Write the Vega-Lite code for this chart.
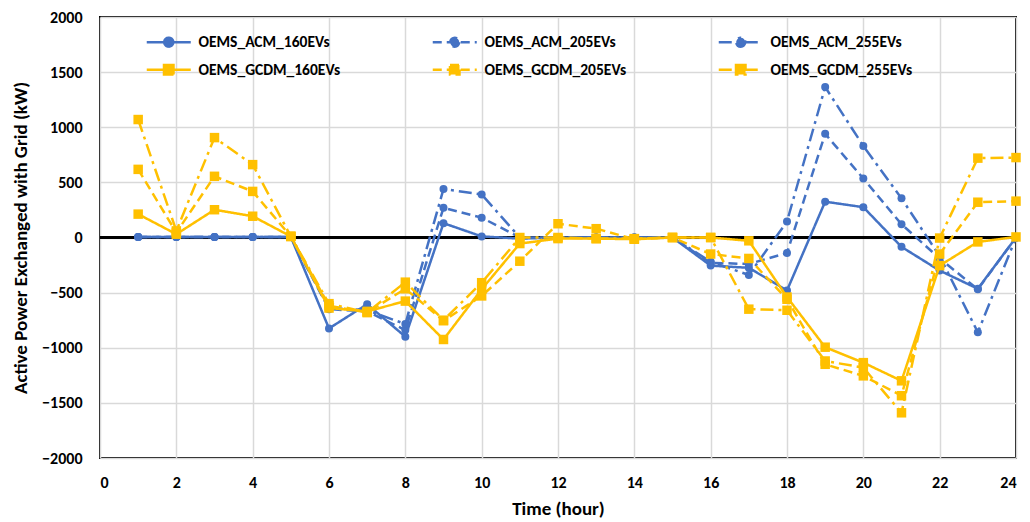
{
  "$schema": "https://vega.github.io/schema/vega-lite/v6.json",
  "width": 916,
  "height": 441,
  "autosize": {"type": "none"},
  "padding": {"left": 100, "top": 17, "right": 14, "bottom": 64},
  "background": "white",
  "data": {
    "values": [
      {"hour": 1, "OEMS_ACM_160EVs": 5, "OEMS_ACM_205EVs": 5, "OEMS_ACM_255EVs": 5, "OEMS_GCDM_160EVs": 212, "OEMS_GCDM_205EVs": 618, "OEMS_GCDM_255EVs": 1070},
      {"hour": 2, "OEMS_ACM_160EVs": 5, "OEMS_ACM_205EVs": 5, "OEMS_ACM_255EVs": 5, "OEMS_GCDM_160EVs": 30, "OEMS_GCDM_205EVs": 45, "OEMS_GCDM_255EVs": 60},
      {"hour": 3, "OEMS_ACM_160EVs": 5, "OEMS_ACM_205EVs": 5, "OEMS_ACM_255EVs": 5, "OEMS_GCDM_160EVs": 252, "OEMS_GCDM_205EVs": 555, "OEMS_GCDM_255EVs": 906},
      {"hour": 4, "OEMS_ACM_160EVs": 5, "OEMS_ACM_205EVs": 5, "OEMS_ACM_255EVs": 5, "OEMS_GCDM_160EVs": 193, "OEMS_GCDM_205EVs": 418, "OEMS_GCDM_255EVs": 661},
      {"hour": 5, "OEMS_ACM_160EVs": 5, "OEMS_ACM_205EVs": 5, "OEMS_ACM_255EVs": 5, "OEMS_GCDM_160EVs": 10, "OEMS_GCDM_205EVs": 10, "OEMS_GCDM_255EVs": 10},
      {"hour": 6, "OEMS_ACM_160EVs": -825, "OEMS_ACM_205EVs": -650, "OEMS_ACM_255EVs": -640, "OEMS_GCDM_160EVs": -640, "OEMS_GCDM_205EVs": -620, "OEMS_GCDM_255EVs": -600},
      {"hour": 7, "OEMS_ACM_160EVs": -605, "OEMS_ACM_205EVs": -670, "OEMS_ACM_255EVs": -660, "OEMS_GCDM_160EVs": -670, "OEMS_GCDM_205EVs": -680, "OEMS_GCDM_255EVs": -680},
      {"hour": 8, "OEMS_ACM_160EVs": -900, "OEMS_ACM_205EVs": -840, "OEMS_ACM_255EVs": -785, "OEMS_GCDM_160EVs": -577, "OEMS_GCDM_205EVs": -465, "OEMS_GCDM_255EVs": -405},
      {"hour": 9, "OEMS_ACM_160EVs": 130, "OEMS_ACM_205EVs": 270, "OEMS_ACM_255EVs": 440, "OEMS_GCDM_160EVs": -925, "OEMS_GCDM_205EVs": -755, "OEMS_GCDM_255EVs": -750},
      {"hour": 10, "OEMS_ACM_160EVs": 10, "OEMS_ACM_205EVs": 180, "OEMS_ACM_255EVs": 390, "OEMS_GCDM_160EVs": -470, "OEMS_GCDM_205EVs": -530, "OEMS_GCDM_255EVs": -410},
      {"hour": 11, "OEMS_ACM_160EVs": -10, "OEMS_ACM_205EVs": 0, "OEMS_ACM_255EVs": 0, "OEMS_GCDM_160EVs": -55, "OEMS_GCDM_205EVs": -215, "OEMS_GCDM_255EVs": 0},
      {"hour": 12, "OEMS_ACM_160EVs": 0, "OEMS_ACM_205EVs": 0, "OEMS_ACM_255EVs": 0, "OEMS_GCDM_160EVs": -10, "OEMS_GCDM_205EVs": 125, "OEMS_GCDM_255EVs": 0},
      {"hour": 13, "OEMS_ACM_160EVs": 0, "OEMS_ACM_205EVs": 0, "OEMS_ACM_255EVs": 0, "OEMS_GCDM_160EVs": -10, "OEMS_GCDM_205EVs": 80, "OEMS_GCDM_255EVs": -10},
      {"hour": 14, "OEMS_ACM_160EVs": 0, "OEMS_ACM_205EVs": 0, "OEMS_ACM_255EVs": 0, "OEMS_GCDM_160EVs": -15, "OEMS_GCDM_205EVs": -15, "OEMS_GCDM_255EVs": -10},
      {"hour": 15, "OEMS_ACM_160EVs": 0, "OEMS_ACM_205EVs": 0, "OEMS_ACM_255EVs": 0, "OEMS_GCDM_160EVs": 0, "OEMS_GCDM_205EVs": 0, "OEMS_GCDM_255EVs": 0},
      {"hour": 16, "OEMS_ACM_160EVs": -255, "OEMS_ACM_205EVs": -230, "OEMS_ACM_255EVs": -220, "OEMS_GCDM_160EVs": 0, "OEMS_GCDM_205EVs": -150, "OEMS_GCDM_255EVs": 0},
      {"hour": 17, "OEMS_ACM_160EVs": -275, "OEMS_ACM_205EVs": -240, "OEMS_ACM_255EVs": -340, "OEMS_GCDM_160EVs": -30, "OEMS_GCDM_205EVs": -190, "OEMS_GCDM_255EVs": -650},
      {"hour": 18, "OEMS_ACM_160EVs": -480, "OEMS_ACM_205EVs": -140, "OEMS_ACM_255EVs": 145, "OEMS_GCDM_160EVs": -540, "OEMS_GCDM_205EVs": -560, "OEMS_GCDM_255EVs": -660},
      {"hour": 19, "OEMS_ACM_160EVs": 325, "OEMS_ACM_205EVs": 940, "OEMS_ACM_255EVs": 1365, "OEMS_GCDM_160EVs": -995, "OEMS_GCDM_205EVs": -1150, "OEMS_GCDM_255EVs": -1120},
      {"hour": 20, "OEMS_ACM_160EVs": 275, "OEMS_ACM_205EVs": 535, "OEMS_ACM_255EVs": 830, "OEMS_GCDM_160EVs": -1135, "OEMS_GCDM_205EVs": -1255, "OEMS_GCDM_255EVs": -1180},
      {"hour": 21, "OEMS_ACM_160EVs": -85, "OEMS_ACM_205EVs": 120, "OEMS_ACM_255EVs": 355, "OEMS_GCDM_160EVs": -1300, "OEMS_GCDM_205EVs": -1435, "OEMS_GCDM_255EVs": -1590},
      {"hour": 22, "OEMS_ACM_160EVs": -300, "OEMS_ACM_205EVs": -190, "OEMS_ACM_255EVs": -170, "OEMS_GCDM_160EVs": -255, "OEMS_GCDM_205EVs": -150, "OEMS_GCDM_255EVs": -5},
      {"hour": 23, "OEMS_ACM_160EVs": -465, "OEMS_ACM_205EVs": -470, "OEMS_ACM_255EVs": -860, "OEMS_GCDM_160EVs": -40, "OEMS_GCDM_205EVs": 320, "OEMS_GCDM_255EVs": 720},
      {"hour": 24, "OEMS_ACM_160EVs": 0, "OEMS_ACM_205EVs": 0, "OEMS_ACM_255EVs": 0, "OEMS_GCDM_160EVs": 5, "OEMS_GCDM_205EVs": 330, "OEMS_GCDM_255EVs": 725}
    ]
  },
  "transform": [
    {"fold": ["OEMS_ACM_160EVs", "OEMS_ACM_205EVs", "OEMS_ACM_255EVs", "OEMS_GCDM_160EVs", "OEMS_GCDM_205EVs", "OEMS_GCDM_255EVs"], "as": ["series", "kw"]}
  ],
  "encoding": {
    "x": {
      "field": "hour", "type": "quantitative",
      "scale": {"domain": [0, 24], "nice": false, "zero": false},
      "axis": {"values": [0, 2, 4, 6, 8, 10, 12, 14, 16, 18, 20, 22, 24], "format": "d", "title": "Time (hour)", "labelPadding": 16, "titlePadding": 9}
    },
    "y": {
      "field": "kw", "type": "quantitative",
      "scale": {"domain": [-2000, 2000], "nice": false},
      "axis": {
        "values": [-2000, -1500, -1000, -500, 0, 500, 1000, 1500, 2000], "format": "d",
        "title": "Active Power Exchanged with Grid (kW)", "labelPadding": 18, "titlePadding": 11
      }
    },
    "color": {
      "field": "series", "type": "nominal",
      "scale": {
        "domain": ["OEMS_ACM_160EVs", "OEMS_ACM_205EVs", "OEMS_ACM_255EVs", "OEMS_GCDM_160EVs", "OEMS_GCDM_205EVs", "OEMS_GCDM_255EVs"],
        "range": ["#4472C4", "#4472C4", "#4472C4", "#FFC000", "#FFC000", "#FFC000"]
      },
      "legend": {
        "orient": "none", "legendX": 61, "legendY": 17, "columns": 3, "direction": "horizontal", "gridAlign": "all",
        "columnPadding": 86, "rowPadding": 8, "title": null,
        "symbolSize": 100, "labelOffset": 22, "symbolStrokeWidth": 2.5,
        "labelFontSize": 15.5, "labelFontWeight": "bold", "labelColor": "black", "labelLimit": 300,
        "encode": {
          "symbols": {
            "update": {
              "shape": {"signal": "indexof(datum.value, 'ACM') >= 0 ? 'M-4.4,0H4.4M0.9,0A0.9,0.9,0,1,1,-0.9,0A0.9,0.9,0,1,1,0.9,0Z' : 'M-4.4,0H4.4M-0.95,-0.95H0.95V0.95H-0.95Z'"},
              "fill": {"signal": "scale('color', datum.value)"},
              "stroke": {"signal": "scale('color', datum.value)"},
              "strokeWidth": {"value": 2.5},
              "opacity": {"value": 1},
              "fillOpacity": {"value": 1}
            }
          }
        }
      }
    }
  },
  "layer": [
    {
      "mark": {"type": "rule", "color": "black", "strokeWidth": 2},
      "encoding": {"y": {"datum": 0}, "x": {"value": 0}, "x2": {"value": 916}, "color": {"value": "black"}}
    },
    {
      "transform": [{"filter": "indexof(datum.series, 'ACM') >= 0"}],
      "mark": {"type": "line", "strokeWidth": 2.5},
      "encoding": {
        "strokeDash": {
          "field": "series", "type": "nominal",
          "scale": {
            "domain": ["OEMS_ACM_160EVs", "OEMS_ACM_205EVs", "OEMS_ACM_255EVs", "OEMS_GCDM_160EVs", "OEMS_GCDM_205EVs", "OEMS_GCDM_255EVs"],
            "range": [[1, 0], [9, 5], [13, 5, 3, 5], [1, 0], [9, 5], [13, 5, 3, 5]]
          }
        }
      }
    },
    {
      "transform": [{"filter": "indexof(datum.series, 'ACM') >= 0"}],
      "mark": {"type": "point", "shape": "circle", "filled": true, "size": 64, "opacity": 1}
    },
    {
      "transform": [{"filter": "indexof(datum.series, 'GCDM') >= 0"}],
      "mark": {"type": "line", "strokeWidth": 2.5},
      "encoding": {"strokeDash": {"field": "series", "type": "nominal"}}
    },
    {
      "transform": [{"filter": "indexof(datum.series, 'GCDM') >= 0"}],
      "mark": {"type": "point", "shape": "square", "filled": true, "size": 90, "opacity": 1}
    }
  ],
  "config": {
    "font": "Carlito, Lato, sans-serif",
    "view": {"stroke": "black", "strokeWidth": 2},
    "axis": {
      "labelFont": "Carlito, Lato, sans-serif",
      "titleFont": "Carlito, Lato, sans-serif",
      "labelFontSize": 16, "labelFontWeight": "bold", "labelColor": "black",
      "titleFontSize": 19, "titleFontWeight": "bold", "titleColor": "black",
      "gridColor": "#d9d9d9", "gridWidth": 1.5, "domain": false, "ticks": false
    },
    "legend": {
      "labelFont": "Carlito, Lato, sans-serif"
    }
  }
}
